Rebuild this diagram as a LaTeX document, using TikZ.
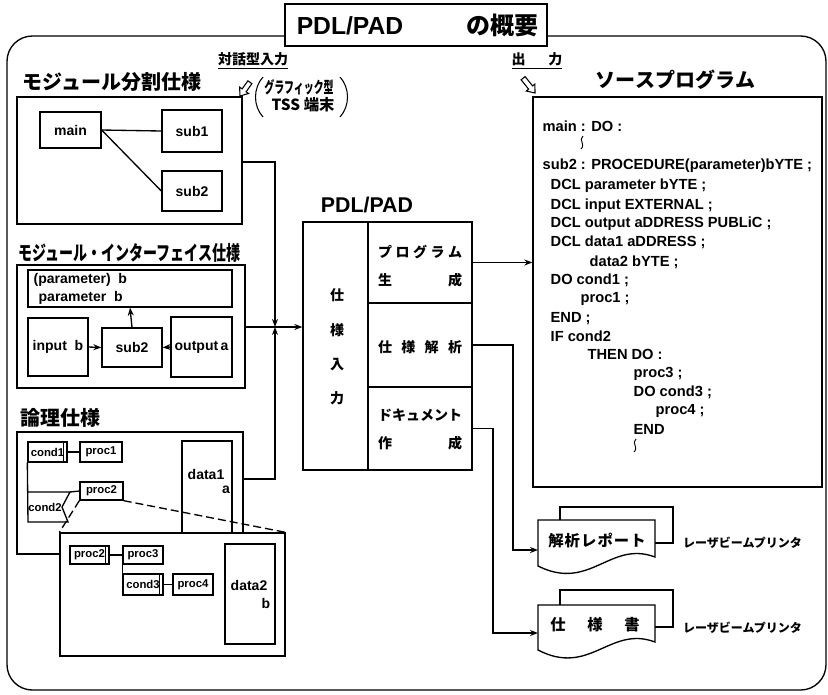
\documentclass[tikz,border=0pt]{standalone}
\usepackage{fontspec}
\usepackage{graphicx}
\setmainfont{Liberation Sans}
\newfontfamily\jp{Noto Sans CJK JP}
\usetikzlibrary{fit,arrows.meta}
\newcommand\fsz[1]{\fontsize{#1}{#1}\selectfont}
% box node: options, name, x1, y1, x2, y2 (pixel coordinates)
\newcommand\bxn[6]{\node[bx,#1,minimum width={(#5-#3)*0.75pt},minimum height={(#6-#4)*0.75pt}] (#2) at ({(#3+#5)/2},{(#4+#6)/2})}
\begin{document}
\begin{tikzpicture}[x=0.75pt,y=-0.75pt,line width=1pt,
  >={Stealth[length=6pt,width=4.5pt]},
  bx/.style={draw,fill=white,inner sep=0pt},
  fr/.style={draw,inner sep=0pt},
  lb/.style={font=\bfseries\fsz{10.5}},
  sm/.style={font=\bfseries\fsz{8.5}},
  jh/.style={font=\jp\bfseries\fsz{15}},
  jc/.style={font=\jp\bfseries\fsz{10.5}},
  cd/.style={font=\bfseries\fsz{11},anchor=west,text height=8pt,text depth=2pt,inner sep=0pt},
  sq/.style={line width=0.7pt}
]
\useasboundingbox (0,0) rectangle (828,694);
% outer frame
\node[draw,rounded corners=19pt,inner sep=0pt,fit={(7,36)(826,690)}] (frame) {};
% title
\node[bx,fit={(285,4)(547,46)}] (title) {};
\node[font=\bfseries\fsz{18.5}] (tA) at (350,26) {PDL/PAD};
\node[font=\jp\bfseries\fsz{18}] (tB) at (502,25) {の概要};
% input / output labels
\node[jc] (taiwa) at (253,61) {\underline{対話型入力}};
\node[jc] (shutsu) at (537,61) {\underline{\makebox[38pt]{出\hfill 力}}};
\draw[line width=0.8pt,fill=white] (240,96) -- (248.6,93.5) -- (246.1,91.8) -- (251.9,83.7) -- (247.9,80.8) -- (242.1,88.9) -- (239.6,87.1) -- cycle;
\draw[line width=0.8pt,fill=white] (535,93) -- (526.3,91.0) -- (528.6,89.1) -- (521.1,79.8) -- (525.1,76.6) -- (532.6,85.9) -- (534.9,84.1) -- cycle;
\draw[line width=0.8pt] (263,77) .. controls (253,88) and (253,106) .. (263,117);
\draw[line width=0.8pt] (340,77) .. controls (350,88) and (350,106) .. (340,117);
\node[font=\jp\bfseries\fsz{12}] (gr) at (299,87) {\scalebox{0.62}[1]{グラフィック型}};
\node[font=\jp\bfseries\fsz{11.5}] (tss) at (303,105) {TSS 端末};
% headings
\node[jh] (h1) at (112,82) {モジュール分割仕様};
\node[jh,anchor=west,inner sep=0pt] (h2) at (18,253) {\scalebox{0.7}[1]{モジュール・インターフェイス仕様}};
\node[jh] (h3) at (61,418) {論理仕様};
\node[jh] (h4) at (675,80) {\makebox[120pt]{ソ\hfill ー\hfill ス\hfill プ\hfill ロ\hfill グ\hfill ラ\hfill ム}};
% box 1
\node[bx,fit={(17,97)(242,224)}] (m1) {};
\bxn{lb}{main}{40}{112}{101}{148}{main};
\bxn{lb}{sub1}{162}{110}{222}{152}{sub1};
\bxn{lb}{sub2a}{162}{171}{222}{211}{sub2};
\draw (main.east) -- (sub1.west);
\draw (main.east) -- (sub2a.west);
% box 2
\node[bx,fit={(17,265)(245,388)}] (m2) {};
\node[bx,fit={(28,270)(232,307)}] (param) {};
\node[lb,anchor=west,inner sep=0pt] (p1) at (33,280) {(parameter)\ \ b};
\node[lb,anchor=west,inner sep=0pt] (p2) at (38,298) {parameter\ \ b};
\bxn{lb}{inp}{28}{318}{88}{376}{input\ \ b};
\bxn{lb}{sub2b}{102}{328}{162}{367}{sub2};
\bxn{lb}{outp}{171}{317}{232}{377}{output\,a};
\draw[->] (inp.east) -- (sub2b.west);
\draw[->] (outp.west) -- (sub2b.east);
\draw[->] (sub2b.north) -- (param.south);
% box 3
\node[bx,fit={(17,432)(243,554)}] (m3) {};
\bxn{sm}{cond1}{28}{442}{67}{462}{cond1\hspace{3pt}};
\draw ([xshift=-3pt]cond1.north east) -- ([xshift=-3pt]cond1.south east);
\bxn{sm}{proc1}{80}{442}{122}{462}{proc1};
\draw (cond1.east) -- (proc1.west);
\draw (cond1.south west) -- (28,522) -- (68,522) -- (62,507) -- (70,492) -- (28,492);
\coordinate (c2t) at (70,492);
\node[sm] (cond2) at (45,507) {cond2};
\bxn{sm}{proc2a}{80}{482}{123}{500}{proc2};
\draw (c2t) -- (proc2a.west);
\node[fr,fit={(182,441)(232,545)}] (data1) {};
\node[lb] (d1t) at (206,474) {data1};
\node[lb] (d1a) at (226,490) {a};
% zoom box
\node[bx,fit={(60,533)(285,656)}] (zm) {};
\draw[dash pattern=on 6pt off 3pt] (proc2a.south west) -- (zm.north west);
\draw[dash pattern=on 6pt off 3pt] (proc2a.south east) -- (zm.north east);
\bxn{sm}{proc2b}{70}{546}{109}{564}{proc2\hspace{3pt}};
\draw ([xshift=-3pt]proc2b.north east) -- ([xshift=-3pt]proc2b.south east);
\bxn{sm}{proc3}{123}{546}{163}{564}{proc3};
\bxn{sm}{cond3}{123}{574}{163}{595}{cond3\hspace{3pt}};
\draw ([xshift=-3pt]cond3.north east) -- ([xshift=-3pt]cond3.south east);
\bxn{sm}{proc4}{173}{574}{213}{595}{proc4};
\draw (proc2b.east) -- (proc3.west);
\draw (proc3.south west) -- (cond3.north west);
\draw (cond3.east) -- (proc4.west);
\node[fr,fit={(225,544)(275,644)}] (data2) {};
\node[lb] (d2t) at (249,585) {data2};
\node[lb] (d2b) at (266,603) {b};
% PDL/PAD block
\node[font=\bfseries\fsz{16}] (pdlt) at (367,205) {PDL/PAD};
\node[fr,fit={(303,222)(472,470)}] (pdl) {};
\node[fr,fit={(303,222)(368,470)}] (pdlL) {};
\node[fr,fit={(368,222)(472,303)}] (pdlP) {};
\node[fr,fit={(368,303)(472,387)}] (pdlK) {};
\node[fr,fit={(368,387)(472,470)}] (pdlD) {};
\node[jc] (s1) at (337,295) {仕};
\node[jc] (s2) at (337,330) {様};
\node[jc] (s3) at (337,365) {入};
\node[jc] (s4) at (337,398) {力};
\node[jc] (pg1) at (420,252) {\makebox[63pt]{プ\hfill ロ\hfill グ\hfill ラ\hfill ム}};
\node[jc] (pg2) at (420,280) {\makebox[63pt]{生\hfill 成}};
\node[jc] (kk) at (420,347) {\makebox[63pt]{仕\hfill 様\hfill 解\hfill 析}};
\node[jc] (dc1) at (420,415) {\makebox[63pt]{ド\hfill キ\hfill ュ\hfill メ\hfill ン\hfill ト}};
\node[jc] (dc2) at (420,443) {\makebox[63pt]{作\hfill 成}};
% junction connectors
\coordinate (J) at (275,327);
\coordinate (J1) at (275,162);
\coordinate (J3) at (275,479);
\draw[->] (J1 -| m1.east) -- (J1) -- (J);
\draw[->] (J3 -| m3.east) -- (J3) -- (J);
\draw[->] (J -| m2.east) -- (J -| pdl.west);
% source program
\node[fr,fit={(533,97)(822,487)}] (src) {};
\draw[->] (pdlP.east) -- (pdlP.east -| src.west);
\node[cd] (c1) at (542,127) {main : DO :};
\draw[sq] (583,136) .. controls (578,140) and (586,144) .. (581,149);
\node[cd] (c2) at (542,165) {sub2 : PROCEDURE(parameter)bYTE ;};
\node[cd] (c3) at (550,185) {DCL parameter bYTE ;};
\node[cd] (c4) at (550,205) {DCL input EXTERNAL ;};
\node[cd] (c5) at (550,223) {DCL output aDDRESS PUBLiC ;};
\node[cd] (c6) at (550,242) {DCL data1 aDDRESS ;};
\node[cd] (c7) at (589,262) {data2 bYTE ;};
\node[cd] (c8) at (550,280) {DO cond1 ;};
\node[cd] (c9) at (580,298) {proc1 ;};
\node[cd] (c10) at (550,318) {END ;};
\node[cd] (c11) at (550,337) {IF cond2};
\node[cd] (c12) at (587,355) {THEN DO :};
\node[cd] (c13) at (633,373) {proc3 ;};
\node[cd] (c14) at (633,392) {DO cond3 ;};
\node[cd] (c15) at (655,410) {proc4 ;};
\node[cd] (c16) at (633,430) {END};
\draw[sq] (636,439) .. controls (631,443) and (639,447) .. (634,452);
% documents
\coordinate (K) at (513,550);
\coordinate (repL) at (538,550);
\coordinate (D) at (493,633);
\coordinate (shoL) at (538,633);
\draw[fill=white] (560,520) -- (560,507) -- (673,507) -- (673,543) -- (655,543);
\draw[fill=white] (538,520) -- (655,520) -- (655,557) .. controls (610,540) and (590,592) .. (538,566) -- cycle;
\node[font=\jp\bfseries\fsz{11.5}] (rep) at (597,541) {\makebox[73pt]{解\hfill 析\hfill レ\hfill ポ\hfill ー\hfill ト}};
\draw[fill=white] (560,605) -- (560,590) -- (673,590) -- (673,627) -- (655,627);
\draw[fill=white] (538,605) -- (655,605) -- (655,642) .. controls (610,625) and (590,677) .. (538,650) -- cycle;
\node[font=\jp\bfseries\fsz{11.5}] (sho) at (595,625) {\makebox[67pt]{仕\hfill 様\hfill 書}};
\draw[->] (pdlK.east) -| (K) -- (repL);
\draw[->] (pdlD.east) -| (D) -- (shoL);
\node[font=\jp\bfseries\fsz{9},anchor=west] (lp1) at (678,543) {レーザビームプリンタ};
\node[font=\jp\bfseries\fsz{9},anchor=west] (lp2) at (678,628) {レーザビームプリンタ};
\end{tikzpicture}
\end{document}
